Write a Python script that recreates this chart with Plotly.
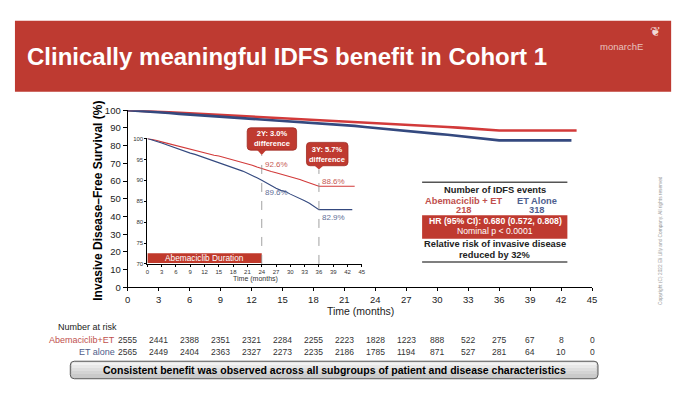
import plotly.graph_objects as go

W, H = 680, 402
def px(x): return x / W
def py(y): return 1 - y / H

# ---------------- data ----------------
months = list(range(0, 37))
abema_surv = [100, 99.8, 99.5, 99.2, 98.9, 98.6, 98.3, 98.0, 97.7, 97.4, 97.1, 96.8, 96.5,
              96.3, 96.0, 95.8, 95.5, 95.2, 94.9, 94.6, 94.3, 94.0, 93.6, 93.2, 92.8,
              92.4, 92.1, 91.8, 91.5, 91.2, 90.9, 90.6, 90.2, 89.8, 89.4, 89.0, 88.6]
et_surv = [100, 99.7, 99.3, 98.9, 98.5, 98.0, 97.6, 97.2, 96.9, 96.5, 96.2, 95.8, 95.5,
           95.1, 94.7, 94.3, 93.9, 93.5, 93.1, 92.7, 92.2, 91.7, 91.2, 90.6, 90.0,
           89.3, 88.7, 88.1, 87.6, 87.3, 86.7, 86.2, 85.6, 85.1, 84.5, 83.8, 83.0]
abema_last_month = 43.5
et_last_month = 43.0

risk_months = list(range(0, 46, 3))
risk_abema = [2555, 2441, 2388, 2351, 2321, 2284, 2255, 2223, 1828, 1223, 888, 522, 275, 67, 8, 0]
risk_et = [2565, 2449, 2404, 2363, 2327, 2273, 2235, 2186, 1785, 1194, 871, 527, 281, 64, 10, 0]

landmark_months = [24, 36]
abema_landmark = ["92.6%", "88.6%"]
et_landmark = ["89.6%", "82.9%"]
diff_labels = ["2Y: 3.0%", "3Y: 5.7%"]

RED = "#d23a3a"
BLUE = "#34497f"
RED_T = "#c75a55"
BLUE_T = "#5f6f98"
BANNER = "#be3a31"
FONT = "Liberation Sans, Arial, sans-serif"

ax_x = months + [abema_last_month]
ay = abema_surv + [abema_surv[-1]]
ex = months + [et_last_month]
ey = et_surv + [et_surv[-1]]

fig = go.Figure()
fig.add_trace(go.Scatter(x=ax_x, y=ay, mode="lines", line=dict(color=RED, width=2.6),
                         xaxis="x", yaxis="y", showlegend=False, cliponaxis=False))
fig.add_trace(go.Scatter(x=ex, y=ey, mode="lines", line=dict(color=BLUE, width=2.6),
                         xaxis="x", yaxis="y", showlegend=False, cliponaxis=False))
fig.add_trace(go.Scatter(x=ax_x, y=ay, mode="lines", line=dict(color=RED, width=1.1),
                         xaxis="x2", yaxis="y2", showlegend=False, cliponaxis=False))
fig.add_trace(go.Scatter(x=ex, y=ey, mode="lines", line=dict(color=BLUE, width=1.1),
                         xaxis="x2", yaxis="y2", showlegend=False, cliponaxis=False))

axis_common = dict(showline=True, linecolor="black", linewidth=1, showgrid=False,
                   zeroline=False, ticks="outside", tickcolor="black", tickwidth=1)

shapes = []
ann = []

def rounded(x0p, y0p, x1p, y1p, r):
    x0, x1, y0, y1 = px(x0p), px(x1p), py(y1p), py(y0p)
    rx, ry = r / W, r / H
    return (f"M {x0+rx},{y0} L {x1-rx},{y0} Q {x1},{y0} {x1},{y0+ry} L {x1},{y1-ry} "
            f"Q {x1},{y1} {x1-rx},{y1} L {x0+rx},{y1} Q {x0},{y1} {x0},{y1-ry} L {x0},{y0+ry} "
            f"Q {x0},{y0} {x0+rx},{y0} Z")

def txt(t, x, y, size=9, color="black", anchor="center"):
    ann.append(dict(text=t, x=px(x), y=py(y), xref="paper", yref="paper", showarrow=False,
                    xanchor=anchor, yanchor="middle", font=dict(family=FONT, size=size, color=color)))

# banner
shapes.append(dict(type="rect", xref="paper", yref="paper", x0=px(4), x1=px(668),
                   y0=py(80), y1=py(7), fillcolor=BANNER, line=dict(width=0), layer="below"))
txt("<b>Clinically meaningful IDFS benefit in Cohort 1</b>", 14, 44, 24, "white", "left")
txt("monarchE", 618, 33, 9.5, "#e8c3bf")
txt("\u2766", 652, 18, 13, "#f1d9d6")

# axis titles
ann.append(dict(text="<b>Invasive Disease\u2013Free Survival (%)</b>", x=px(88), y=py(192),
                xref="paper", yref="paper", textangle=-90, showarrow=False,
                xanchor="center", yanchor="middle", font=dict(family=FONT, size=12, color="black")))
txt("Time (months)", 354, 305.5, 10.5, "#222")
txt("Time (months)", 247, 272, 7, "#333")

# abemaciclib duration bar
shapes.append(dict(type="rect", xref="x2", yref="paper", x0=0, x1=landmark_months[0],
                   y0=py(256), y1=py(246), fillcolor="#c0392b", line=dict(width=0)))
ann.append(dict(text="Abemaciclib Duration", x=landmark_months[0] / 2, y=py(251.3), xref="x2",
                yref="paper", showarrow=False, xanchor="center", yanchor="middle",
                font=dict(family=FONT, size=8.3, color="white")))

# dashed landmark lines, callouts, labels
tips = [145, 160]
boxes = [(239, 117, 289, 140), (299, 132, 341, 156)]
for i, m in enumerate(landmark_months):
    shapes.append(dict(type="line", xref="x2", yref="paper", x0=m, x1=m, y0=py(257),
                       y1=py(tips[i]), line=dict(color="#8a8a8a", width=0.8, dash="dash")))
    bx0, by0, bx1, by1 = boxes[i]
    shapes.append(dict(type="path", xref="paper", yref="paper", path=rounded(bx0, by0, bx1, by1, 3.5),
                       fillcolor="#bf3a30", line=dict(color="#9e2b23", width=0.8)))
    shapes.append(dict(type="path", xref="x2", yref="paper",
                       path=f"M {m-1.0},{py(by1-0.5)} L {m},{py(tips[i])} L {m+1.0},{py(by1-0.5)} Z",
                       fillcolor="#bf3a30", line=dict(width=0)))
    txt(f"<b>{diff_labels[i]}<br>difference</b>", (bx0 + bx1) / 2, (by0 + by1) / 2, 7.5, "white")

label_pos_abema = [(24.3, 155), (36.3, 172)]
label_pos_et = [(24.3, 184), (36.2, 209)]
for i in range(2):
    ann.append(dict(text=abema_landmark[i], x=label_pos_abema[i][0], y=py(label_pos_abema[i][1]),
                    xref="x2", yref="paper", showarrow=False, xanchor="left", yanchor="middle",
                    font=dict(family=FONT, size=8, color=RED_T)))
    ann.append(dict(text=et_landmark[i], x=label_pos_et[i][0], y=py(label_pos_et[i][1]),
                    xref="x2", yref="paper", showarrow=False, xanchor="left", yanchor="middle",
                    font=dict(family=FONT, size=8, color=BLUE_T)))

# info box
for yy in (173, 255):
    shapes.append(dict(type="line", xref="paper", yref="paper", x0=px(416), x1=px(563),
                       y0=py(yy), y1=py(yy), line=dict(color="#555", width=1.3)))
shapes.append(dict(type="rect", xref="paper", yref="paper", x0=px(416), x1=px(563),
                   y0=py(231), y1=py(207), fillcolor="#bf3a30", line=dict(width=0)))
txt("<b>Number of IDFS events</b>", 490, 181, 9.3, "#222")
txt("<b>Abemaciclib + ET</b>", 458, 192, 9.3, "#c0504d")
txt("<b>218</b>", 458, 201, 9.3, "#c0504d")
txt("<b>ET Alone</b>", 532, 192, 9.3, "#4f5f8f")
txt("<b>318</b>", 532, 201, 9.3, "#4f5f8f")
txt("<b>HR (95% CI): 0.680 (0.572, 0.808)</b>", 490, 213, 8.7, "white")
txt("Nominal p < 0.0001", 490, 223.5, 8.7, "white")
txt("<b>Relative risk of invasive disease</b>", 490, 236, 9.3, "#222")
txt("<b>reduced by 32%</b>", 490, 248, 9.3, "#222")

# number at risk
txt("Number at risk", 46, 322, 9, "#222", "left")
txt("Abemaciclib+ET", 107, 335, 9, "#c0504d", "right")
txt("ET alone", 107, 347, 9, "#4f5d8a", "right")
for m, a, e in zip(risk_months, risk_abema, risk_et):
    ann.append(dict(text=str(a), x=m, y=py(335), xref="x", yref="paper", showarrow=False,
                    xanchor="center", yanchor="middle", font=dict(family=FONT, size=8.5, color="#333")))
    ann.append(dict(text=str(e), x=m, y=py(347), xref="x", yref="paper", showarrow=False,
                    xanchor="center", yanchor="middle", font=dict(family=FONT, size=8.5, color="#333")))

# bottom message box (rounded, faux gradient)
shapes.append(dict(type="path", xref="paper", yref="paper", path=rounded(60, 357, 594, 375, 4),
                   fillcolor="#c4c4c4", line=dict(width=0)))
band_cols = ["#f2f2f2", "#e8e8e8", "#dedede", "#d4d4d4", "#cacaca"]
for k, c in enumerate(band_cols):
    shapes.append(dict(type="rect", xref="paper", yref="paper", x0=px(61.5), x1=px(592.5),
                       y0=py(359 + 3 * (k + 1)), y1=py(358 + 3 * k), fillcolor=c, line=dict(width=0)))
shapes.append(dict(type="path", xref="paper", yref="paper", path=rounded(60, 357, 594, 375, 4),
                   fillcolor="rgba(0,0,0,0)", line=dict(color="#5a5a5a", width=1)))
txt("<b>Consistent benefit was observed across all subgroups of patient and disease characteristics</b>",
    327, 366, 10.5, "black")

# copyright
ann.append(dict(text="Copyright (C) 2022 Eli Lilly and Company. All rights reserved", x=px(657),
                y=py(233), xref="paper", yref="paper", textangle=-90, showarrow=False,
                xanchor="center", yanchor="middle", font=dict(family=FONT, size=4.8, color="#999")))

fig.update_layout(
    width=W, height=H, margin=dict(l=0, r=0, t=0, b=0),
    paper_bgcolor="white", plot_bgcolor="rgba(0,0,0,0)",
    xaxis=dict(domain=[px(118), px(588)], range=[0, 45], tickvals=risk_months, ticklen=3,
               anchor="y", tickfont=dict(family=FONT, size=9.5, color="#222"), **axis_common),
    yaxis=dict(domain=[py(281), py(99)], range=[0, 100], tickvals=list(range(0, 101, 10)), ticklen=4,
               anchor="x", tickfont=dict(family=FONT, size=9.5, color="#222"), **axis_common),
    xaxis2=dict(domain=[px(138), px(355)], range=[0, 45], tickvals=risk_months, ticklen=2,
                anchor="y2", tickfont=dict(family=FONT, size=6, color="#333"), **axis_common),
    yaxis2=dict(domain=[py(257), py(128)], range=[70, 100], tickvals=list(range(70, 101, 5)), ticklen=2,
                anchor="x2", tickfont=dict(family=FONT, size=6, color="#333"), **axis_common),
    shapes=shapes, annotations=ann,
)

fig.write_html("out.html")
